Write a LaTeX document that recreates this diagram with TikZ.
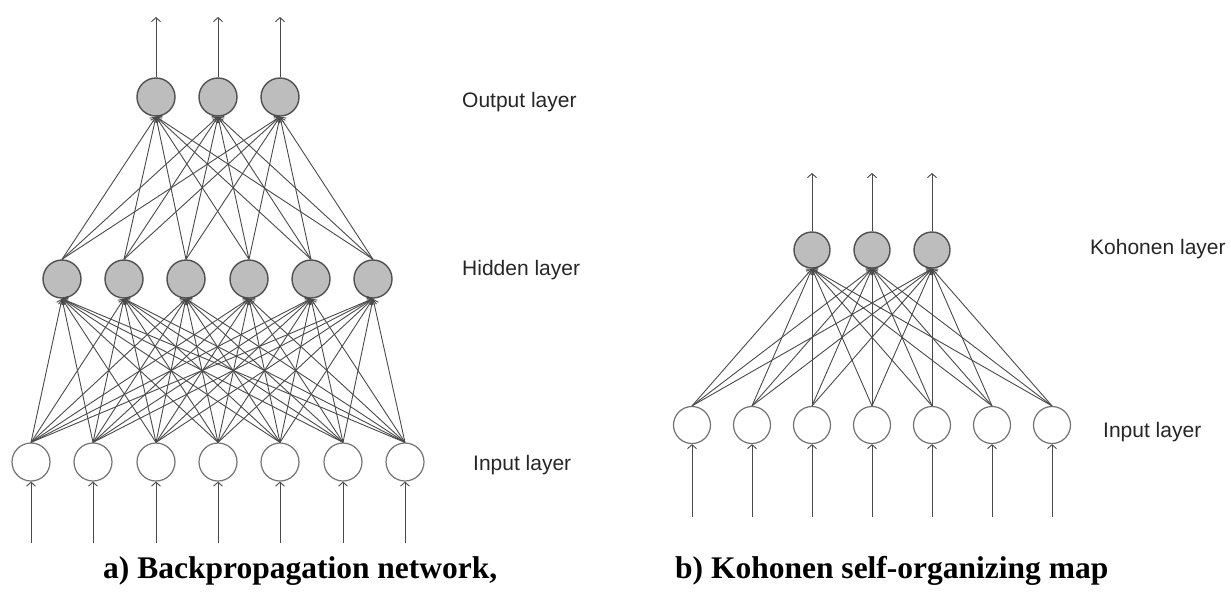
\documentclass[tikz,border=0pt]{standalone}
\usepackage{fontspec}
\setmainfont{Liberation Serif}
\setsansfont{Liberation Sans}
\usetikzlibrary{arrows.meta}
\definecolor{linec}{HTML}{4A4A4A}
\definecolor{neurfill}{HTML}{BDBDBD}
\definecolor{rimc}{HTML}{505050}
\tikzset{
  hid/.style={circle,draw=rimc,line width=1.4pt,fill=neurfill,minimum size=38pt,inner sep=0pt},
  inp/.style={circle,draw=rimc!80,line width=1.2pt,fill=white,minimum size=38pt,inner sep=0pt},
  wire/.style={draw=linec,line width=0.9pt,-{Straight Barb[length=4pt,width=9pt]}},
  lbl/.style={font=\sffamily\fontsize{21}{24}\selectfont,text=black!85,anchor=west,inner sep=0pt},
  captxt/.style={font=\rmfamily\bfseries\fontsize{31.5}{36}\selectfont,anchor=base west,inner sep=0pt}
}
\begin{document}
\begin{tikzpicture}[x=1pt,y=-1pt]
\useasboundingbox (0,0) rectangle (1231,600);
% ---------- a) backpropagation ----------
\foreach \x [count=\i] in {156,218,280} {
  \node[hid] (o\i) at (\x,97) {};
  \coordinate (ot\i) at (\x,17);
}
\foreach \x [count=\i] in {62,124,186,249,311,373} {
  \node[hid] (h\i) at (\x,279) {};
}
\foreach \x [count=\i] in {31,93,156,218,280,343,405} {
  \node[inp] (i\i) at (\x,462) {};
  \coordinate (ib\i) at (\x,543);
}
\foreach \i in {1,...,7} {
  \draw[wire] (ib\i) -- (i\i.south);
  \foreach \j in {1,...,6} { \draw[wire] (i\i.north) -- (h\j.south); }
}
\foreach \j in {1,...,6} {
  \foreach \k in {1,2,3} { \draw[wire] (h\j.north) -- (o\k.south); }
}
\foreach \k in {1,2,3} { \draw[wire] (o\k.north) -- (ot\k); }
\node[lbl] (lo) at (462,102) {Output layer};
\node[lbl] (lh) at (462,270) {Hidden layer};
\node[lbl] (li) at (473,465) {Input layer};
\node[captxt] (ca) at (103,578) {a) Backpropagation network,};
% ---------- b) Kohonen ----------
\foreach \x [count=\i] in {812,872,932} {
  \node[hid,minimum size=36pt] (k\i) at (\x,250) {};
  \coordinate (kt\i) at (\x,173);
}
\foreach \x [count=\i] in {692,752,812,872,932,992,1052} {
  \node[inp,minimum size=37pt] (j\i) at (\x,425) {};
  \coordinate (jb\i) at (\x,517);
}
\foreach \i in {1,...,7} {
  \draw[wire] (jb\i) -- (j\i.south);
  \foreach \k in {1,2,3} { \draw[wire] (j\i.north) -- (k\k.south); }
}
\foreach \k in {1,2,3} { \draw[wire] (k\k.north) -- (kt\k); }
\node[lbl] (lk) at (1090,249) {Kohonen layer};
\node[lbl] (lj) at (1103,432) {Input layer};
\node[captxt] (cb) at (675,578) {b) Kohonen self-organizing map};
\end{tikzpicture}
\end{document}
